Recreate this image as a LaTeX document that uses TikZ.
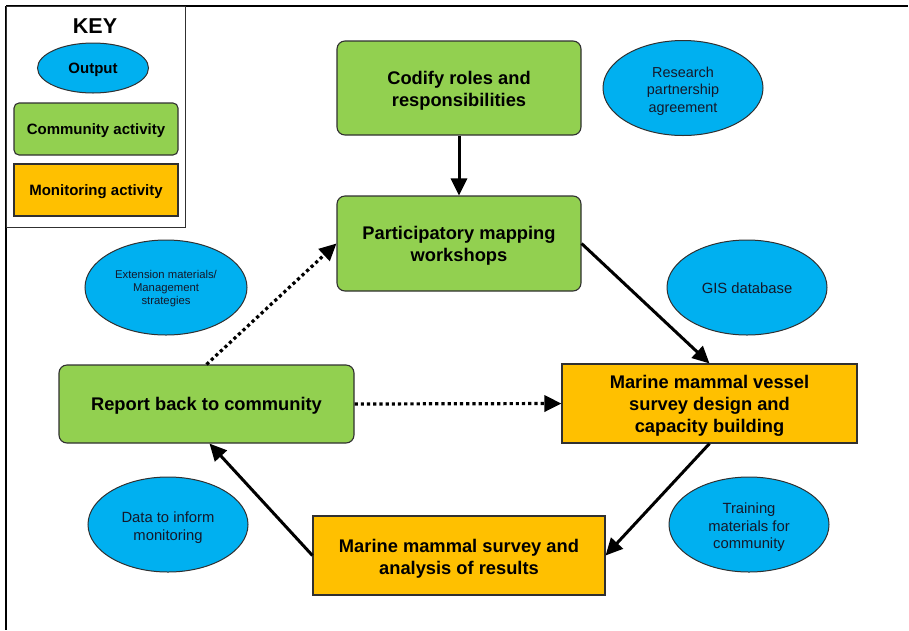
\documentclass[tikz,border=0pt]{standalone}
\usepackage{fontspec}
\setmainfont{Liberation Sans}
\usetikzlibrary{shapes.geometric,arrows.meta}
\definecolor{cgreen}{HTML}{92D050}
\definecolor{corange}{HTML}{FFC000}
\definecolor{cblue}{HTML}{00B0F0}
\definecolor{ctext}{HTML}{14182A}
\definecolor{cborder}{HTML}{303030}
\newcommand\mydown[1]{\rule{0pt}{\dimexpr 0.716em+#1\relax}}
\tikzset{
  box/.style={draw=cborder, line width=1.1pt, inner sep=0pt, align=center, text=black,
     font=\fontsize{18.3}{21.8}\selectfont\bfseries},
  greenbox/.style={box, fill=cgreen, rounded corners=8pt},
  orangebox/.style={box, fill=corange},
  outp/.style={ellipse, draw=cborder, line width=1pt, fill=cblue, inner sep=0pt, align=center,
     text=ctext, minimum width=160pt, minimum height=95pt, font=\fontsize{14.8}{17.5}\selectfont},
  flow/.style={line width=3pt, -{Triangle[length=17pt,width=16pt]}},
  dotflow/.style={line width=3.2pt, dash pattern=on 3.2pt off 3pt, -{Triangle[length=17pt,width=16pt]}},
}
\begin{document}
\begin{tikzpicture}[x=1pt,y=-1pt]
\useasboundingbox (0,0) rectangle (909,630);
% frame
\draw[line width=1.6pt] (6,6) -- (908,6);
\draw[line width=1.4pt] (6,6) -- (6,630);
\draw[draw=cborder, line width=1pt] (6,6) rectangle (185,227);
% key
\node[font=\fontsize{21.5}{24}\selectfont\bfseries] (keytitle) at (95,26) {KEY};
\node[outp, minimum width=111pt, minimum height=50pt, text=black, font=\fontsize{15}{17}\selectfont\bfseries] (kout) at (93,68) {\mydown{3pt}Output};
\node[greenbox, rounded corners=5pt, minimum width=164pt, minimum height=52pt, font=\fontsize{15}{17}\selectfont\bfseries] (kcom) at (96,129) {\mydown{3pt}Community activity};
\node[orangebox, minimum width=164pt, minimum height=52pt, font=\fontsize{15}{17}\selectfont\bfseries] (kmon) at (96,190) {\mydown{3pt}Monitoring activity};
% boxes
\node[greenbox, minimum width=244pt, minimum height=94pt] (codify) at (459,88) {\mydown{6pt}Codify roles and\\responsibilities};
\node[greenbox, minimum width=244pt, minimum height=95pt] (part) at (459,243.5) {\mydown{5pt}Participatory mapping\\workshops};
\node[orangebox, minimum width=295pt, minimum height=79pt] (vessel) at (709.5,403.5) {\mydown{5pt}Marine mammal vessel\\survey design and\\capacity building};
\node[greenbox, minimum width=295pt, minimum height=78pt] (report) at (206.5,404) {\mydown{3pt}Report back to community};
\node[orangebox, minimum width=292pt, minimum height=79pt] (survey) at (459,555.5) {\mydown{6pt}Marine mammal survey and\\analysis of results};
% outputs
\node[outp, font=\fontsize{14.4}{17.5}\selectfont] (research) at (683,88) {\mydown{6pt}Research\\partnership\\agreement};
\node[outp] (gis) at (747,287.5) {\mydown{2pt}GIS database};
\node[outp, minimum width=162pt, font=\fontsize{11.3}{13.3}\selectfont] (ext) at (166,287.5) {\mydown{2pt}Extension materials/\\Management\\strategies};
\node[outp] (data) at (168,524.5) {\mydown{6pt}Data to inform\\monitoring};
\node[outp] (train) at (749,524.5) {\mydown{6pt}Training\\materials for\\community};
% connectors
\draw[flow] (codify.south) -- (part.north);
\draw[flow] (part.east) -- (vessel.north);
\draw[flow] (vessel.south) -- (survey.east);
\draw[flow] (survey.west) -- ([xshift=3pt]report.south);
\draw[dotflow] (report.east) -- (vessel.west);
\draw[dotflow] (report.north) -- (part.west);
\end{tikzpicture}
\end{document}
